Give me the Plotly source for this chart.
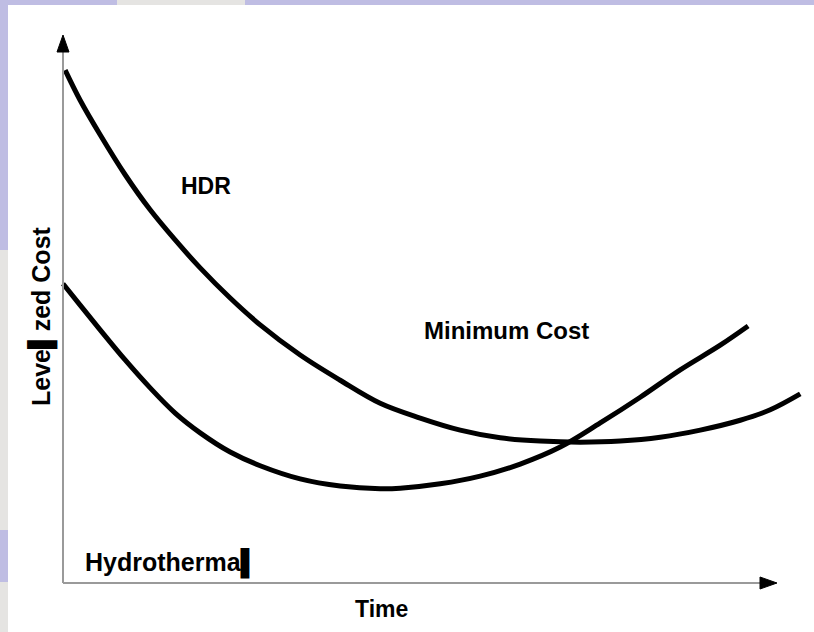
import plotly.graph_objects as go

# ---- data (Time in arbitrary units, Levelized Cost in arbitrary units) ----
hdr_time = [0.3, 2.4, 5.2, 8.7, 12.2, 15.7, 19.2, 23.4, 27.6, 33.2, 38.8, 44.4, 50.0,
            55.6, 61.2, 66.8, 72.4, 78.0, 83.6, 89.2, 94.8, 99.0, 103.2]
hdr_cost = [93.6, 88.1, 81.8, 74.5, 68.1, 62.6, 57.5, 52.0, 47.1, 41.6, 37.0, 32.8, 30.1,
            27.9, 26.5, 25.9, 25.7, 25.9, 26.6, 27.9, 29.7, 31.6, 34.5]
hydro_time = [0.0, 2.4, 5.2, 8.7, 12.2, 15.7, 19.2, 23.4, 27.6, 33.2, 38.8, 44.4, 47.2,
              52.8, 58.4, 64.0, 69.6, 75.2, 80.8, 86.4, 92.0, 95.9]
hydro_cost = [54.6, 50.7, 46.2, 40.7, 35.6, 31.0, 27.4, 23.9, 21.4, 19.0, 17.7, 17.2, 17.3,
              18.1, 19.5, 21.7, 24.8, 29.2, 33.9, 38.9, 43.4, 46.9]

label_hdr = "HDR"
label_min = "Minimum Cost"
label_hydro = "Hydrotherma\u258c"
x_title = "Time"
y_title = "Leve\u258czed Cost"

W, H = 814, 632
OX, OY = 63, 583          # pixel position of the origin
XS, YS = 7.144, 5.48      # pixels per data unit
X_RANGE = [-OX / XS, (W - OX) / XS]
Y_RANGE = [-(H - OY) / YS, OY / YS]

FONT = "Liberation Sans, Arial, sans-serif"

def dx(px):
    return (px - OX) / XS

def dy(py):
    return (OY - py) / YS

fig = go.Figure()
for t, c in [(hdr_time, hdr_cost), (hydro_time, hydro_cost)]:
    fig.add_trace(go.Scatter(x=t, y=c, mode="lines",
                             line=dict(color="black", width=5, shape="spline", smoothing=1.0),
                             hoverinfo="skip", showlegend=False))

shapes = []
def rect(x0, y0, x1, y1, color):
    shapes.append(dict(type="rect", xref="x", yref="y", x0=dx(x0), y0=dy(y0), x1=dx(x1), y1=dy(y1),
                       fillcolor=color, line=dict(width=0), layer="below"))

LAV = "#bfbde3"
GRY = "#e5e4e2"
rect(0, 0, W, 5, LAV)
rect(117, 0, 245, 5, GRY)
rect(0, 0, 8, 250, LAV)
rect(0, 250, 8, 530, GRY)
rect(0, 530, 8, 582, LAV)
rect(0, 582, 8, H, GRY)

# axes lines (grey) and arrowheads (black)
x_tip, y_tip = dx(777), dy(35)
hl = 17
hw = 6
shapes.append(dict(type="line", xref="x", yref="y", x0=0, y0=0, x1=dx(777 - hl), y1=0,
                   line=dict(color="#9a9a9a", width=2)))
shapes.append(dict(type="line", xref="x", yref="y", x0=0, y0=0, x1=0, y1=dy(35 + hl),
                   line=dict(color="#9a9a9a", width=2)))
shapes.append(dict(type="path", xref="x", yref="y",
                   path=f"M {dx(777 - hl)} {dy(OY - hw)} L {x_tip} 0 L {dx(777 - hl)} {dy(OY + hw)} Z",
                   fillcolor="black", line=dict(color="black", width=1)))
shapes.append(dict(type="path", xref="x", yref="y",
                   path=f"M {dx(OX - hw)} {dy(35 + hl)} L 0 {y_tip} L {dx(OX + hw)} {dy(35 + hl)} Z",
                   fillcolor="black", line=dict(color="black", width=1)))

def ann(text, px, py, size, angle=0):
    return dict(text=f"<b>{text}</b>", xref="x", yref="y", x=dx(px), y=dy(py),
                showarrow=False, textangle=angle, font=dict(family=FONT, size=size, color="black"),
                xanchor="center", yanchor="middle")

annotations = [
    ann(label_hdr, 206, 186, 23),
    ann(label_min, 506, 330, 24),
    ann(label_hydro, 171, 563, 25),
    ann(x_title, 381, 609, 23),
    ann(y_title, 42, 316, 25, -90),
]

fig.update_layout(
    width=W, height=H,
    margin=dict(l=0, r=0, t=0, b=0, pad=0),
    paper_bgcolor="white", plot_bgcolor="white",
    xaxis=dict(range=X_RANGE, visible=False, fixedrange=True),
    yaxis=dict(range=Y_RANGE, visible=False, fixedrange=True),
    shapes=shapes, annotations=annotations,
)

fig.write_html("out.html", config={"displayModeBar": False},
               post_script="document.body.style.margin='0';document.body.style.padding='0';")
